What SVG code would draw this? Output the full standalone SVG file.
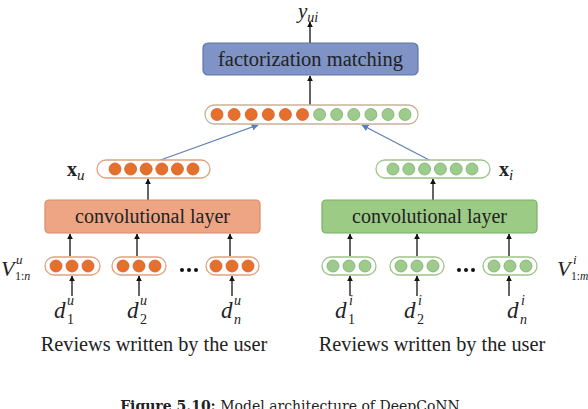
<svg xmlns="http://www.w3.org/2000/svg" width="588" height="409" viewBox="0 0 588 409">
<defs>
<marker id="ah" viewBox="0 0 10 10" refX="9" refY="5" markerWidth="6" markerHeight="6" orient="auto" markerUnits="userSpaceOnUse"><path d="M0,0 L10,5 L0,10 Z" fill="#111"/></marker>
<marker id="ahb" viewBox="0 0 10 10" refX="9" refY="5" markerWidth="7" markerHeight="7" orient="auto" markerUnits="userSpaceOnUse"><path d="M0,0 L10,5 L0,10 Z" fill="#5b7fb5"/></marker>
<style>
text{font-family:"Liberation Serif","Times New Roman",serif;fill:#222}
.lbl{font-size:20px}
.m{font-style:italic}
.sc{font-size:14px}
.po{fill:#fff;stroke:#e2a07c;stroke-width:1.3}
.pg{fill:#fff;stroke:#9cc488;stroke-width:1.3}
.o{fill:#e4702c;stroke:#d4602a;stroke-width:0.8}
.g{fill:#9ccb8b;stroke:#7fae6c;stroke-width:0.8}
.ar{stroke:#111;stroke-width:1.3;fill:none;marker-end:url(#ah)}
.ab{stroke:#5b7fb5;stroke-width:1.2;fill:none;marker-end:url(#ahb)}
</style>
</defs>
<rect width="588" height="409" fill="#fff"/>

<g id="connectors">
<line class="ar" x1="310" y1="43" x2="310" y2="22"/>
<line class="ar" x1="310" y1="105" x2="310" y2="76"/>
<line class="ab" x1="155" y1="162" x2="258" y2="125"/>
<line class="ab" x1="433" y1="162" x2="362" y2="125"/>
<line class="ar" x1="148" y1="200" x2="148" y2="179"/>
<line class="ar" x1="433" y1="200" x2="433" y2="179"/>
<line class="ar" x1="70" y1="256" x2="70" y2="234"/>
<line class="ar" x1="137" y1="256" x2="137" y2="234"/>
<line class="ar" x1="230" y1="256" x2="230" y2="234"/>
<line class="ar" x1="350" y1="256" x2="350" y2="234"/>
<line class="ar" x1="417" y1="256" x2="417" y2="234"/>
<line class="ar" x1="509" y1="256" x2="509" y2="234"/>
<line class="ar" x1="72" y1="296" x2="72" y2="276"/>
<line class="ar" x1="139" y1="296" x2="139" y2="276"/>
<line class="ar" x1="232" y1="296" x2="232" y2="276"/>
<line class="ar" x1="350" y1="296" x2="350" y2="276"/>
<line class="ar" x1="417" y1="296" x2="417" y2="276"/>
<line class="ar" x1="509" y1="296" x2="509" y2="276"/>
</g>

<g id="yui"><text x="298" y="18" class="m" font-size="21">y<tspan font-size="14" dy="4">ui</tspan></text></g>

<g id="fm">
<rect x="203" y="43" width="215" height="32" rx="5" fill="#7f93c7" stroke="#5f74aa" stroke-width="1.2"/>
<text x="310.5" y="66" text-anchor="middle" font-size="20.5">factorization matching</text>
</g>

<g id="concat">
<rect x="205" y="105" width="213" height="19" rx="9.5" fill="#fff" stroke="#c9b39d" stroke-width="1.3"/>
<circle class="o" cx="217" cy="114.5" r="6"/><circle class="o" cx="234.1" cy="114.5" r="6"/><circle class="o" cx="251.2" cy="114.5" r="6"/><circle class="o" cx="268.3" cy="114.5" r="6"/><circle class="o" cx="285.4" cy="114.5" r="6"/><circle class="o" cx="302.5" cy="114.5" r="6"/>
<circle class="g" cx="319.6" cy="114.5" r="6"/><circle class="g" cx="336.7" cy="114.5" r="6"/><circle class="g" cx="353.8" cy="114.5" r="6"/><circle class="g" cx="370.9" cy="114.5" r="6"/><circle class="g" cx="388" cy="114.5" r="6"/><circle class="g" cx="405" cy="114.5" r="6"/>
</g>

<g id="xu">
<rect class="po" x="97" y="160" width="113" height="18" rx="9"/>
<circle class="o" cx="115" cy="169" r="6"/><circle class="o" cx="130.6" cy="169" r="6"/><circle class="o" cx="146.2" cy="169" r="6"/><circle class="o" cx="161.8" cy="169" r="6"/><circle class="o" cx="177.4" cy="169" r="6"/><circle class="o" cx="193" cy="169" r="6"/>
<text x="67" y="176" font-weight="bold" font-size="20">x<tspan font-weight="normal" font-style="italic" font-size="15" dy="4">u</tspan></text>
</g>

<g id="xi">
<rect class="pg" x="376" y="160" width="114" height="18" rx="9"/>
<circle class="g" cx="393" cy="169" r="6"/><circle class="g" cx="408.8" cy="169" r="6"/><circle class="g" cx="424.6" cy="169" r="6"/><circle class="g" cx="440.4" cy="169" r="6"/><circle class="g" cx="456.2" cy="169" r="6"/><circle class="g" cx="472" cy="169" r="6"/>
<text x="499" y="176" font-weight="bold" font-size="20">x<tspan font-weight="normal" font-style="italic" font-size="15" dy="4">i</tspan></text>
</g>

<g id="convu">
<rect x="45" y="200" width="215" height="33" rx="4" fill="#eea584" stroke="#d98a68" stroke-width="1.2"/>
<text x="152.5" y="223" text-anchor="middle" class="lbl">convolutional layer</text>
</g>
<g id="convi">
<rect x="322" y="200" width="215" height="33" rx="4" fill="#9ccb86" stroke="#7bae66" stroke-width="1.2"/>
<text x="429.5" y="223" text-anchor="middle" class="lbl">convolutional layer</text>
</g>

<g id="vu">
<rect class="po" x="45" y="257" width="55" height="18" rx="9"/>
<circle class="o" cx="56" cy="266" r="6"/><circle class="o" cx="72" cy="266" r="6"/><circle class="o" cx="88" cy="266" r="6"/>
<rect class="po" x="112" y="257" width="54" height="18" rx="9"/>
<circle class="o" cx="123" cy="266" r="6"/><circle class="o" cx="139" cy="266" r="6"/><circle class="o" cx="155" cy="266" r="6"/>
<rect class="po" x="206" y="257" width="53" height="18" rx="9"/>
<circle class="o" cx="216" cy="266" r="6"/><circle class="o" cx="232" cy="266" r="6"/><circle class="o" cx="248" cy="266" r="6"/>
<circle cx="182" cy="270" r="2" fill="#111"/><circle cx="189" cy="270" r="2" fill="#111"/><circle cx="196" cy="270" r="2" fill="#111"/>
<text x="1" y="276" class="m" font-size="22">V</text>
<text x="16" y="264" class="m" font-size="13">u</text>
<text x="15" y="280" font-size="12">1:<tspan font-style="italic">n</tspan></text>
</g>

<g id="vi">
<rect class="pg" x="322" y="257" width="54" height="18" rx="9"/>
<circle class="g" cx="333" cy="266" r="6"/><circle class="g" cx="349" cy="266" r="6"/><circle class="g" cx="365" cy="266" r="6"/>
<rect class="pg" x="390" y="257" width="54" height="18" rx="9"/>
<circle class="g" cx="401" cy="266" r="6"/><circle class="g" cx="417" cy="266" r="6"/><circle class="g" cx="433" cy="266" r="6"/>
<rect class="pg" x="483" y="257" width="54" height="18" rx="9"/>
<circle class="g" cx="494" cy="266" r="6"/><circle class="g" cx="510" cy="266" r="6"/><circle class="g" cx="526" cy="266" r="6"/>
<circle cx="459" cy="270" r="2" fill="#111"/><circle cx="466" cy="270" r="2" fill="#111"/><circle cx="473" cy="270" r="2" fill="#111"/>
<text x="557" y="276" class="m" font-size="22">V</text>
<text x="573" y="264" class="m" font-size="13">i</text>
<text x="571" y="280" font-size="11.5">1:<tspan font-style="italic">m</tspan></text>
</g>

<g id="docs">
<text x="54" y="318" class="m" font-size="23">d</text><text x="67" y="305" class="m sc">u</text><text x="67" y="324" class="sc">1</text>
<text x="127" y="318" class="m" font-size="23">d</text><text x="140" y="305" class="m sc">u</text><text x="140" y="324" class="sc">2</text>
<text x="221" y="318" class="m" font-size="23">d</text><text x="234" y="305" class="m sc">u</text><text x="234" y="324" class="m sc">n</text>
<text x="335" y="318" class="m" font-size="23">d</text><text x="349" y="305" class="m sc">i</text><text x="348" y="324" class="sc">1</text>
<text x="404" y="318" class="m" font-size="23">d</text><text x="418" y="305" class="m sc">i</text><text x="417" y="324" class="sc">2</text>
<text x="507" y="318" class="m" font-size="23">d</text><text x="521" y="305" class="m sc">i</text><text x="520" y="324" class="m sc">n</text>
</g>

<g id="captions">
<text x="154" y="351" text-anchor="middle" font-size="20.3">Reviews written by the user</text>
<text x="432" y="351" text-anchor="middle" font-size="20.3">Reviews written by the user</text>
<text x="290" y="411" text-anchor="middle" font-size="14" style="font-family:'DejaVu Serif','Liberation Serif',serif"><tspan font-weight="bold">Figure 5.10:</tspan> Model architecture of DeepCoNN</text>
</g>
</svg>
